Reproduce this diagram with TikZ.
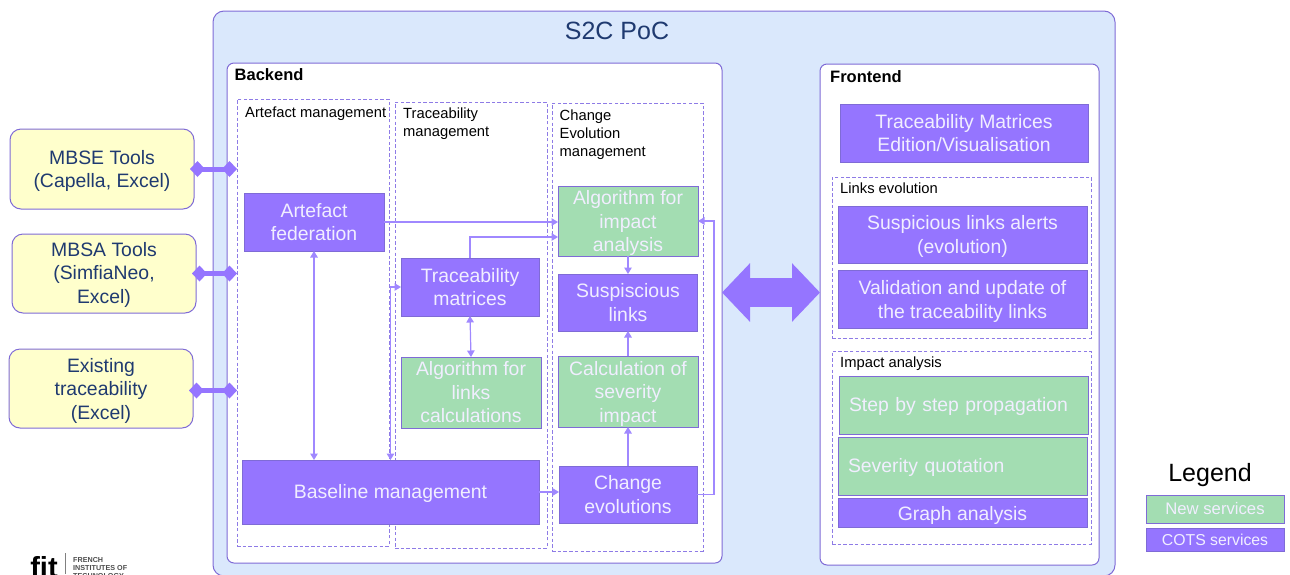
\documentclass[tikz,border=0pt]{standalone}
\usepackage{fontspec}
\setmainfont{Liberation Sans}
\usetikzlibrary{arrows.meta,positioning}

\definecolor{pocblue}{HTML}{DAE8FC}
\definecolor{edgeviolet}{HTML}{7F6BD6}
\definecolor{dashviolet}{HTML}{8E7BE6}
\definecolor{cotsviolet}{HTML}{9575FF}
\definecolor{linkviolet}{HTML}{A088FF}
\definecolor{newgreen}{HTML}{A3DDB2}
\definecolor{toolyellow}{HTML}{FFFFCC}
\definecolor{toolblue}{HTML}{1F3A70}
\definecolor{softwhite}{HTML}{F1EEFF}

\tikzset{
  textdrop/.style={execute at begin node={\rule{0pt}{#1}}},
  box/.style={draw=edgeviolet, line width=1pt, inner sep=0pt, outer sep=0pt, align=center,
    text=softwhite, font=\fontsize{19.4}{23.5}\selectfont, textdrop=0pt},
  cots/.style={box, fill=cotsviolet},
  newserv/.style={box, fill=newgreen},
  tool/.style={box, fill=toolyellow, rounded corners=11pt, text=toolblue},
  panel/.style={draw=edgeviolet, line width=1pt, fill=white, rounded corners=7pt, inner sep=0pt, outer sep=0pt},
  zone/.style={draw=dashviolet, line width=1pt, dash pattern=on 3.5pt off 2.2pt, inner sep=0pt, outer sep=0pt},
  zonetitle/.style={anchor=north west, inner sep=0pt, align=left, font=\fontsize{14.75}{17.8}\selectfont},
  paneltitle/.style={anchor=west, inner sep=0pt, font=\fontsize{16.5}{20}\selectfont\bfseries},
  toollink/.style={line width=5pt, draw=cotsviolet, shorten <=-4pt,
    {Diamond[length=15pt,width=16pt]}-{Diamond[length=15pt,width=16pt]}},
  servlink/.style={color=linkviolet, line width=1.2pt},
  >={Triangle[length=6.5pt,width=7.5pt]}
}

\begin{document}
\begin{tikzpicture}[x=1pt,y=-1pt]
          \useasboundingbox (0,0) rectangle (1290,574);

          % main frames
          \node[panel, fill=pocblue, rounded corners=11pt, minimum width=902pt, minimum height=565pt] (poc) at (664,293.5) {};
          \node[font=\fontsize{25}{30}\selectfont, text=toolblue] (poctitle) at (617,31) {S2C PoC};
          \node[panel, minimum width=495pt, minimum height=500pt] (backend) at (474.5,313) {};
          \node[panel, minimum width=279pt, minimum height=501pt] (frontend) at (959.5,314.5) {};
          \node[paneltitle] (backendtitle) at (234.5,75) {Backend};
          \node[paneltitle] (frontendtitle) at (830,77) {Frontend};

          % dashed groups of the backend
          \node[zone, minimum width=152pt, minimum height=447pt] (artefactzone) at (313,322.5) {};
          \node[zone, minimum width=152pt, minimum height=446pt] (tracezone) at (471,325) {};
          \node[zone, minimum width=151pt, minimum height=448pt] (changezone) at (627.5,327) {};
          \node[zonetitle] (artefacttitle) at (245,107) {Artefact management};
          \node[zonetitle] (tracetitle) at (403,108) {Traceability\\management};
          \node[zonetitle] (changetitle) at (559.5,110) {Change\\Evolution\\management};

          % dashed groups of the frontend
          \node[zone, minimum width=259pt, minimum height=161pt] (linkszone) at (961.5,257.5) {};
          \node[zone, minimum width=259pt, minimum height=193pt] (impactzone) at (961.5,447.5) {};
          \node[zonetitle] (linkstitle) at (840,183) {Links evolution};
          \node[zonetitle] (impacttitle) at (840,357) {Impact analysis};

          % external tools
          \node[tool, textdrop=41.7pt, minimum width=184pt, minimum height=80pt] (mbse) at (102,169) {MBSE Tools\\(Capella, Excel)};
          \node[tool, textdrop=63.2pt, minimum width=184pt, minimum height=79pt] (mbsa) at (104,273.5) {MBSA Tools\\(SimfiaNeo,\\Excel)};
          \node[tool, textdrop=65.2pt, minimum width=184pt, minimum height=79pt] (existing) at (101,388.5) {Existing\\traceability\\(Excel)};

          % backend services
          \node[cots, minimum width=140pt, minimum height=58pt] (federation) at (314,222) {Artefact\\federation};
          \node[cots, textdrop=16.5pt, minimum width=297pt, minimum height=64pt] (baseline) at (390.5,492) {Baseline management};
          \node[cots, minimum width=138pt, minimum height=58pt] (matrices) at (470,287) {Traceability\\matrices};
          \node[newserv, minimum width=140pt, minimum height=71pt] (linksalgo) at (471,392.5) {Algorithm for\\links\\calculations};
          \node[newserv, textdrop=65.2pt, minimum width=140pt, minimum height=70pt] (impactalgo) at (628,221) {Algorithm for\\impact\\analysis};
          \node[cots, minimum width=139pt, minimum height=57pt] (suspicious) [below=18pt of impactalgo] {Suspiscious\\links};
          \node[newserv, textdrop=65.2pt, minimum width=140pt, minimum height=71pt] (severity) [below=25pt of suspicious] {Calculation of\\severity\\impact};
          \node[cots, minimum width=138pt, minimum height=57pt] (evolutions) [below=39pt of severity] {Change\\evolutions};

          % frontend services
          \node[cots, minimum width=248pt, minimum height=58pt] (edition) at (964,133) {Traceability Matrices\\Edition/Visualisation};
          \node[cots, textdrop=41.7pt, minimum width=249pt, minimum height=57pt] (alerts) at (962.5,234.5) {Suspicious links alerts\\(evolution)};
          \node[cots, textdrop=42.7pt, minimum width=249pt, minimum height=58pt] (validation) [below=7pt of alerts] {Validation and update of\\the traceability links};
          \node[newserv, textdrop=17pt, minimum width=249pt, minimum height=58pt, text width=229pt, align=left] (propagation) at (963.5,405) {Step by step propagation};
          \node[newserv, textdrop=17pt, minimum width=249pt, minimum height=58pt, text width=229pt, align=left] (quotation) at (962.5,466) {Severity quotation};
          \node[cots, textdrop=20pt, minimum width=249pt, minimum height=29pt] (graph) [below=3pt of quotation] {Graph analysis};

          % legend
          \node[font=\fontsize{25}{30}\selectfont] (legend) at (1210,475) {Legend};
          \node[newserv, font=\fontsize{16.7}{20}\selectfont, minimum width=138pt, minimum height=28pt] (legendnew) at (1215,509) {New services};
          \node[cots, font=\fontsize{15.8}{20}\selectfont, minimum width=138pt, minimum height=23pt] (legendcots) at (1215,539.5) {COTS services};

          % logo, cut by the page edge
          \node[font=\fontsize{29}{29}\selectfont\bfseries, inner sep=0pt] (logofit) at (44,567) {fit};
          \coordinate (logotop) at (65.5,553);
          \coordinate (logobottom) at (65.5,574);
          \draw[line width=.6pt, gray] (logotop) -- (logobottom);
          \node[anchor=north west, inner sep=0pt, align=left, text=black!70, font=\fontsize{7.2}{8.2}\selectfont\bfseries] (logotext) at (73,557) {FRENCH\\INSTITUTES OF\\TECHNOLOGY};

          % links to the tools
          \draw[toollink] (mbse.east) -- (mbse.east -| artefactzone.west);
          \draw[toollink] (mbsa.east) -- (mbsa.east -| artefactzone.west);
          \draw[toollink] ([yshift=-2pt]existing.east) -- ([yshift=-2pt]existing.east -| artefactzone.west);

          % links between the services
          \path[servlink, <->]
                    (federation.south) edge (federation.south |- baseline.north)
                    (matrices.south) edge (linksalgo.north);
          \path[servlink, ->]
                    (federation.east) edge (federation.east -| impactalgo.west)
                    (baseline.east) edge (baseline.east -| evolutions.west)
                    (impactalgo.south) edge (suspicious.north)
                    (severity.north) edge (suspicious.south)
                    (evolutions.north) edge (severity.south);
          \draw[servlink, <->] (matrices.west) -| (baseline.north);
          \draw[servlink, ->] (matrices.north) |- ([yshift=-16pt]impactalgo.west);
          \draw[servlink, ->] (evolutions.east) -- ++(17,0) |- (impactalgo.east);

          % link between backend and frontend
          \coordinate (bigmid) at (771,292.5);
          \draw[line width=29pt, draw=cotsviolet, {Triangle[length=28pt,width=57pt]}-{Triangle[length=28pt,width=57pt]}]
                    (backend.east |- bigmid) -- (frontend.west |- bigmid);
\end{tikzpicture}
\end{document}
